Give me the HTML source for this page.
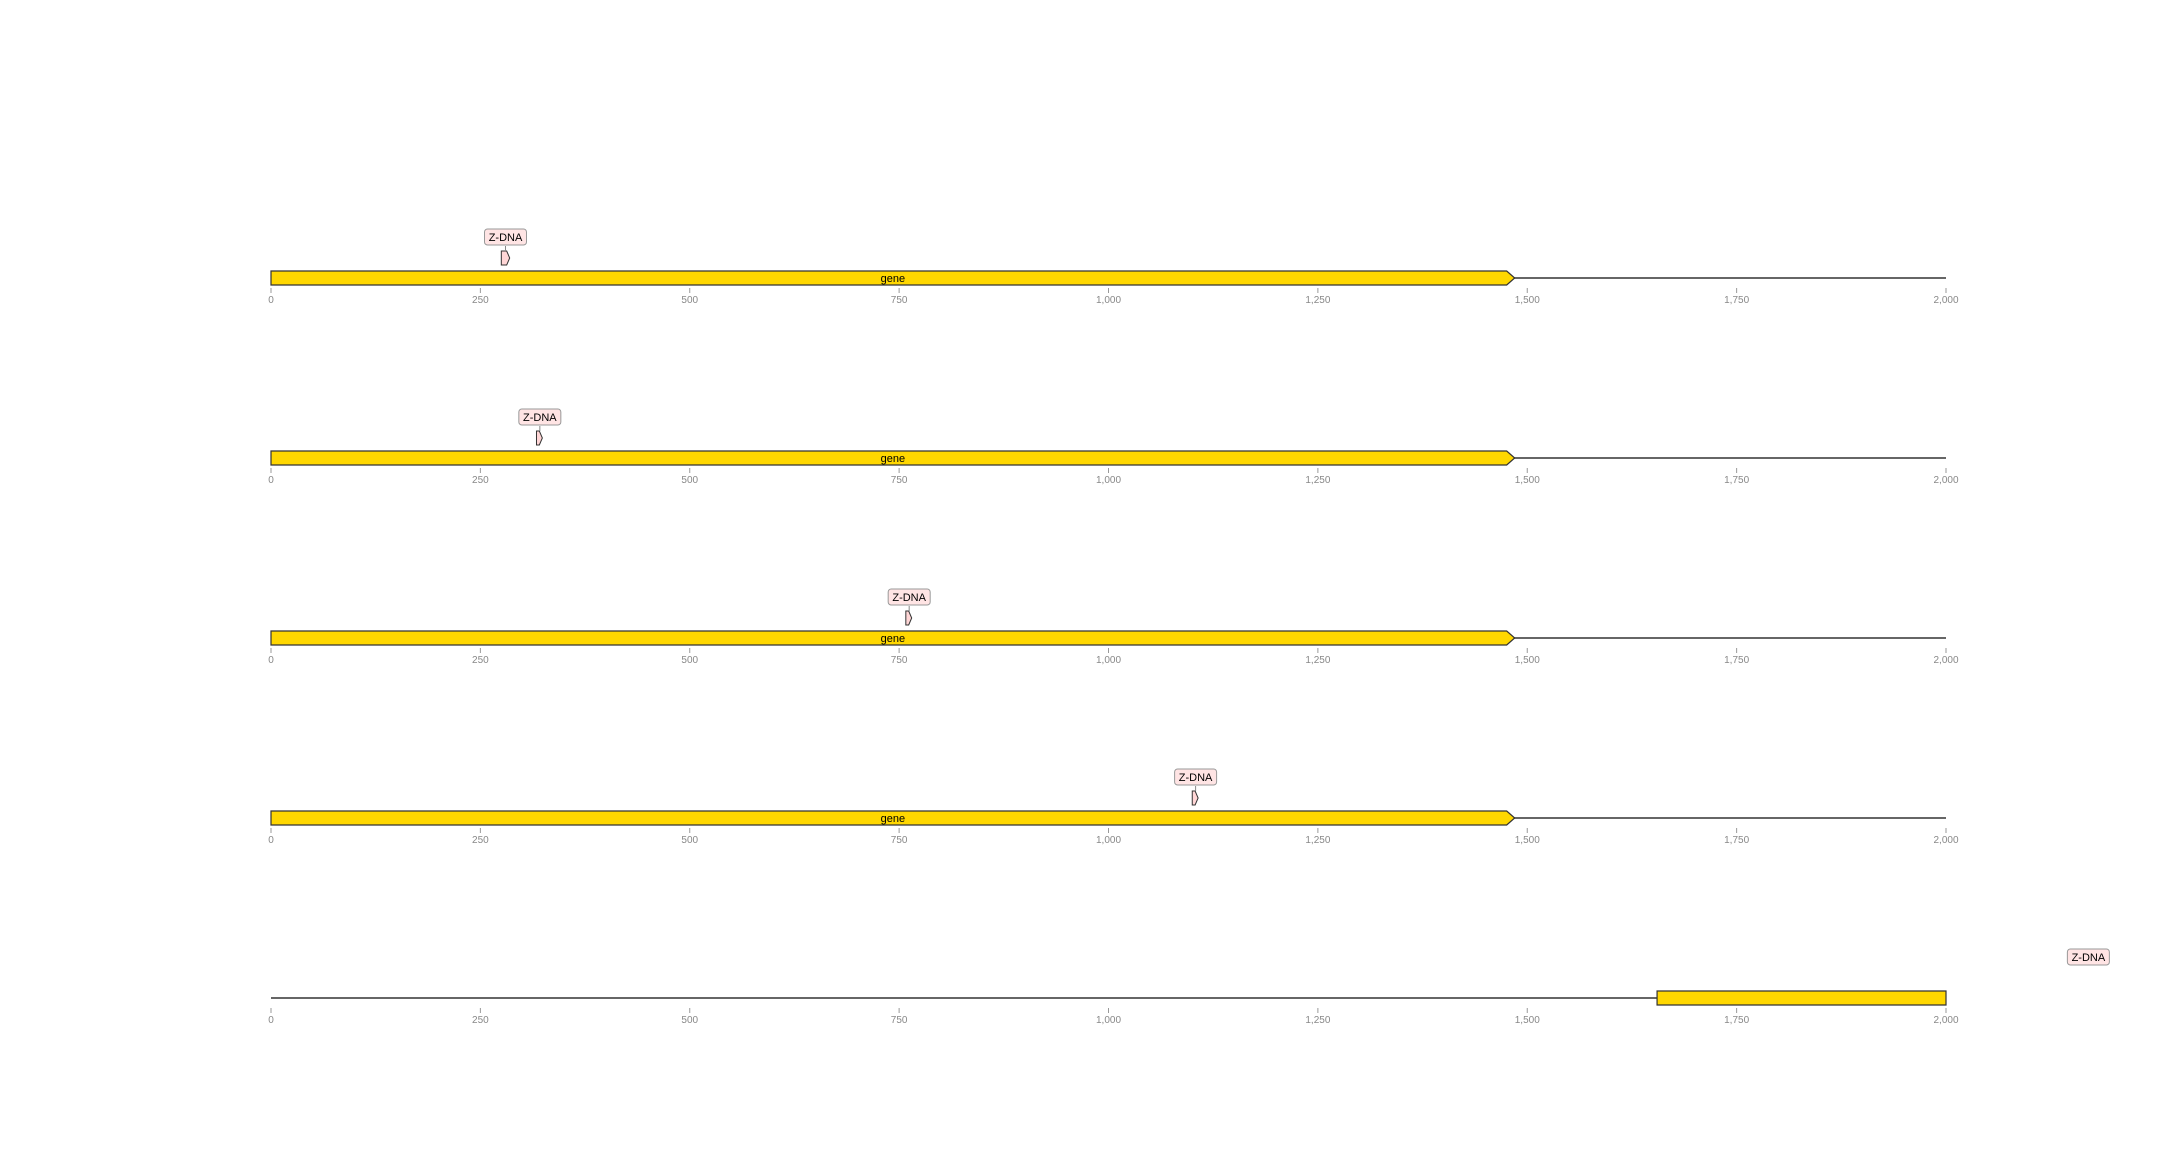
<!DOCTYPE html>
<html><head><meta charset="utf-8">
<style>
html,body{margin:0;padding:0;background:#fff;}
svg{display:block;font-family:"Liberation Sans","DejaVu Sans",sans-serif;}
</style></head>
<body>
<svg id="chart" width="2160" height="1152" viewBox="0 0 2160 1152" xmlns="http://www.w3.org/2000/svg"></svg>
<script>
const seqLength = 2000;
const tickValues = [0,250,500,750,1000,1250,1500,1750,2000];
const tickLabels = ["0","250","500","750","1,000","1,250","1,500","1,750","2,000"];
const geneStarts = [0,0,0,0,1655];
const geneEnds = [1485,1485,1485,1485,2000];
const geneLabels = ["gene","gene","gene","gene",""];
const geneArrow = [true,true,true,true,false];
const zdnaStarts = [275,317,758,1100,null];
const zdnaEnds = [285,324,765,1107,null];
const zdnaLabelPos = [280,321,762,1104,2170];

const NS="http://www.w3.org/2000/svg";
const svg=document.getElementById('chart');
const X0=271, X1=1946;
function xs(v){return X0+(v/seqLength)*(X1-X0);}
const rowY=[278,458,638,818,998];
function mk(tag,attrs,parent){const e=document.createElementNS(NS,tag);for(const k in attrs)e.setAttribute(k,attrs[k]);(parent||svg).appendChild(e);return e;}

rowY.forEach((cy,i)=>{
  const g=mk('g',{});
  
  
  const line=mk('line',{x1:xs(0),x2:xs(seqLength),y1:cy,y2:cy,stroke:'#333','stroke-width':1.6},g);
  
  
  tickValues.forEach((t,j)=>{
    mk('line',{x1:xs(t),x2:xs(t),y1:cy+10,y2:cy+15,stroke:'#999','stroke-width':1},g);
    const tx=mk('text',{x:xs(t),y:cy+25,'text-anchor':'middle','font-size':10,fill:'#888'},g);
    tx.textContent=tickLabels[j];
    
    
  });
  const a=xs(geneStarts[i]), b=xs(geneEnds[i]), h=7;
  let d;
  if(geneArrow[i]) d=`M${a},${cy-h} L${b-8},${cy-h} L${b},${cy} L${b-8},${cy+h} L${a},${cy+h} Z`;
  else d=`M${a},${cy-h} L${b},${cy-h} L${b},${cy+h} L${a},${cy+h} Z`;
  const gene=mk('path',{d:d,fill:'#ffd700',stroke:'#333','stroke-width':1.2},g);
  
  
  if(geneLabels[i]){
    const gt=mk('text',{x:(a+b)/2,y:cy+4,'text-anchor':'middle','font-size':11,fill:'#000'},g);
    gt.textContent=geneLabels[i];
    
    
  }
  const lx=xs(zdnaLabelPos[i]);
  if(zdnaStarts[i]!==null){
    const za=xs(zdnaStarts[i]), zb=xs(zdnaEnds[i]);
    const top=cy-27, bot=cy-13;
    const z=mk('path',{d:`M${za},${top} L${zb-3},${top} L${zb},${(top+bot)/2} L${zb-3},${bot} L${za},${bot} Z`,fill:'#ffd6d6',stroke:'#333','stroke-width':1},g);
    
    
    mk('line',{x1:lx,x2:lx,y1:cy-32,y2:cy-27,stroke:'#888','stroke-width':1},g);
  }
  const box=mk('rect',{x:lx-21,y:cy-49,width:42,height:16,rx:3,fill:'#ffe4e4',stroke:'#999','stroke-width':1},g);
  
  
  const zt=mk('text',{x:lx,y:cy-37,'text-anchor':'middle','font-size':11,fill:'#000'},g);
  zt.textContent='Z-DNA';
  
  
});
</script>
</body></html>
